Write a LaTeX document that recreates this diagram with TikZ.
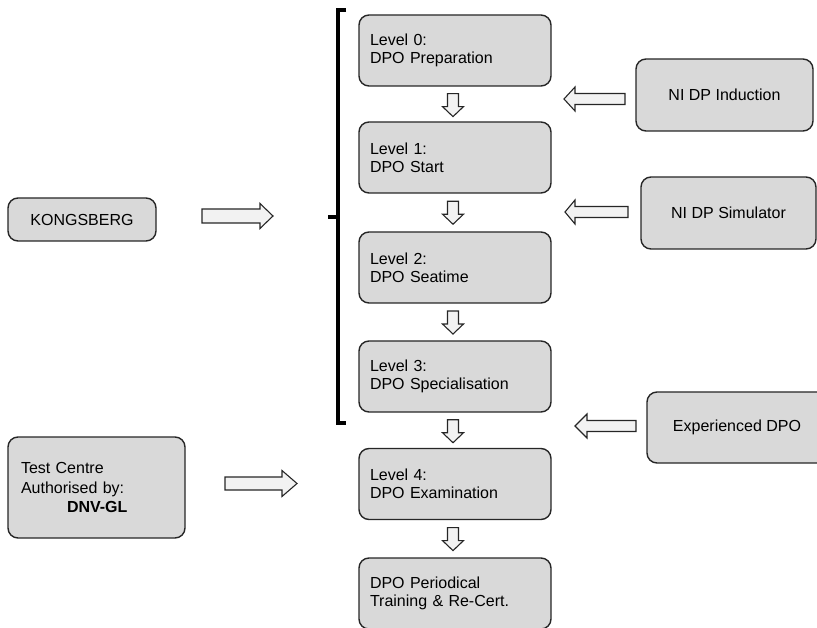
\documentclass[tikz,border=0pt]{standalone}
\usepackage{fontspec}
\setmainfont{Liberation Sans}
\usetikzlibrary{calc}
\begin{document}
\begin{tikzpicture}[x=1pt,y=-1pt,
  font=\fontsize{16}{18}\selectfont,
  box/.style={draw=black!85, line width=1.4pt, fill=black!15, rounded corners=10pt, inner sep=0pt},
  level/.style={box, minimum width=192pt, minimum height=71pt, text width=170pt, align=left},
  side/.style={box, minimum height=72pt, align=center},
  arrowstyle/.style={draw=black!85, line width=1.1pt, fill=black!5, line join=miter},
  pics/blk/.style n args={4}{code={
    \path[arrowstyle] (0,-#3) -- ({#1-#2},-#3) -- ({#1-#2},-#4) -- (#1,0)
      -- ({#1-#2},#4) -- ({#1-#2},#3) -- (0,#3) -- cycle;}},
  bracket/.style={draw=black, line width=3.5pt}
]
\useasboundingbox (0,0) rectangle (817,628);

% main ladder of levels
\node[level] (L0) at (455,50.5) {Level 0:\\DPO Preparation};
\node[level] (L1) at (455,157.5) {Level 1:\\DPO Start};
\node[level] (L2) at (455,267.5) {Level 2:\\DPO Seatime};
\node[level] (L3) at (455,376.5) {Level 3:\\DPO Specialisation};
\node[level] (L4) at (455,484) {Level 4:\\DPO Examination};
\node[level] (L5) at (455,593.5) {DPO Periodical\\Training \& Re-Cert.};

% down arrows between levels
\foreach \a/\b in {L0/L1,L1/L2,L2/L3,L3/L4,L4/L5}{
  \pic[rotate=-90] at ($(\a.south)!0.2!(\b.north)+(-2,0)$) {blk={23}{10}{5.5}{10.5}};
}

% providers on the left
\node[box, minimum width=148pt, minimum height=43pt] (kong) at (82,219.5) {KONGSBERG};
\node[box, minimum width=177pt, minimum height=101pt, text width=151pt, align=left,
      font=\fontsize{16}{19.5}\selectfont] (test) at (96.5,487.5)
  {Test Centre\\Authorised by:\\\hspace*{46pt}\textbf{DNV-GL}};

\pic at (202,216) {blk={71}{13}{7}{12.5}};
\pic at (225,483.5) {blk={72}{15}{6.5}{13}};

% bracket grouping levels 0 to 3
\draw[bracket, line cap=butt] (346,10) -- (338,10) -- (338,423) -- (346,423);
\draw[bracket] (338,217) -- (328,217);

% entry routes on the right
\node[side, minimum width=177pt] (ind) at (724.5,95) {NI DP Induction};
\node[side, minimum width=175pt] (sim) at (728.5,213) {NI DP Simulator};
\node[side, minimum width=180pt, minimum height=71pt] (exp) at (737,427.5) {Experienced DPO};

\pic[rotate=180] at (625,99) {blk={61}{11}{5.5}{12}};
\pic[rotate=180] at (628,212) {blk={63}{10}{5.5}{12}};
\pic[rotate=180] at (636,426) {blk={61}{12}{5.5}{12}};
\end{tikzpicture}
\end{document}
